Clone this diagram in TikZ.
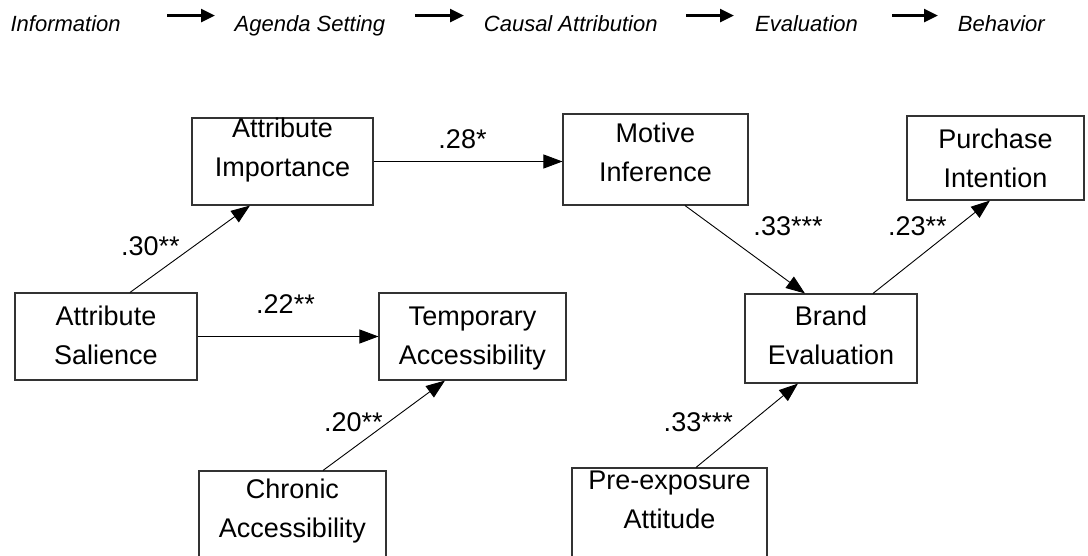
\documentclass[tikz,border=0pt]{standalone}
\usepackage{fontspec}
\setmainfont{Liberation Sans}
\usetikzlibrary{arrows.meta,positioning}

\newcommand{\varfont}{\fontsize{27pt}{39pt}\selectfont}
\newcommand{\stagefont}{\fontsize{22pt}{26pt}\selectfont\itshape}

\tikzset{
  var/.style={draw=black!80, line width=1.1pt, inner sep=0pt, align=center,
    font=\varfont, text depth=0pt, text height=55pt},
  stage/.style={font=\stagefont, inner sep=0pt, anchor=base west},
  link/.style={-{Triangle[length=19pt,width=14pt]}, line width=0.9pt},
  flow/.style={-{Triangle[length=14pt,width=13pt]}, line width=2.6pt},
  coef/.style={font=\varfont, inner sep=0pt}
}

\begin{document}
\begin{tikzpicture}[x=1pt,y=1pt,node distance=4cm,on grid]
\clip (0,0) rectangle (1088,-556);

% stages along the top
\node[stage] (info)   at (10.4,-31.7)  {Information};
\node[stage] (agenda) at (234.5,-31.7) {Agenda Setting};
\node[stage] (cause)  at (483.7,-31.7) {Causal Attribution};
\node[stage] (eval)   at (755,-31.7)   {Evaluation};
\node[stage] (behav)  at (957.7,-31.7) {Behavior};

\draw[flow, shorten <=46.5pt, shorten >=19.5pt] (info.north east) -- (info.north east -| agenda.west);
\draw[flow, shorten <=29.4pt, shorten >=19.7pt] (agenda.north east) -- (agenda.north east -| cause.west);
\draw[flow, shorten <=28.4pt, shorten >=21pt] (cause.north east) -- (cause.north east -| eval.west);
\draw[flow, shorten <=34pt, shorten >=19.7pt] (eval.north east) -- (eval.north east -| behav.west);

% variables
\node[var, minimum width=182pt, minimum height=87pt] (sal) at (106,-336.5) {Attribute\\Salience};
\node[var, minimum width=181pt, minimum height=87pt, text height=31pt] (imp) [above right=175pt and 176.5pt of sal] {Attribute\\Importance};
\node[var, minimum width=187pt, minimum height=87pt] (tmp) [right=366.5pt of sal] {Temporary\\Accessibility};
\node[var, minimum width=187pt, minimum height=95pt, text height=37pt] (chr) [below left=182pt and 180pt of tmp] {Chronic\\Accessibility};
\node[var, minimum width=185pt, minimum height=91pt, text height=44.4pt] (mot) [above right=2pt and 373pt of imp] {Motive\\Inference};
\node[var, minimum width=172pt, minimum height=89pt, text height=51pt] (brd) [below right=179pt and 175.5pt of mot] {Brand\\Evaluation};
\node[var, minimum width=177pt, minimum height=84pt, text height=60pt] (pur) [above right=180.5pt and 164.5pt of brd] {Purchase\\Intention};
\node[var, minimum width=195pt, minimum height=95pt, text height=25pt] (pre) [below left=177pt and 161.5pt of brd] {Pre-exposure\\Attitude};

% paths
\draw[link] ([xshift=24pt]sal.north) -- node[coef, pos=0.43, anchor=base east, xshift=-1.6pt] {.30**} ([xshift=-32.5pt]imp.south);
\draw[link] (sal.east) -- node[coef, midway, anchor=base, yshift=22.5pt, xshift=-2.5pt] {.22**} (tmp.west);
\draw[link] ([xshift=30.5pt]chr.north) -- node[coef, pos=0.43, anchor=base east, xshift=7.7pt] {.20**} ([xshift=-27.5pt]tmp.south);
\draw[link] (imp.east) -- node[coef, midway, anchor=base, yshift=12.5pt, xshift=-5.5pt] {.28*} (imp.east -| mot.west);
\draw[link] ([xshift=29.5pt]mot.south) -- node[coef, pos=0.337, anchor=base west, xshift=27.6pt] {.33***} ([xshift=-26pt]brd.north);
\draw[link] ([xshift=42pt]brd.north) -- node[coef, pos=0.628, anchor=base east, xshift=0.6pt] {.23**} ([xshift=-5.5pt]pur.south);
\draw[link] ([xshift=26.5pt]pre.north) -- node[coef, pos=0.424, anchor=base east, xshift=-6pt] {.33***} ([xshift=-33pt]brd.south);
\end{tikzpicture}
\end{document}
